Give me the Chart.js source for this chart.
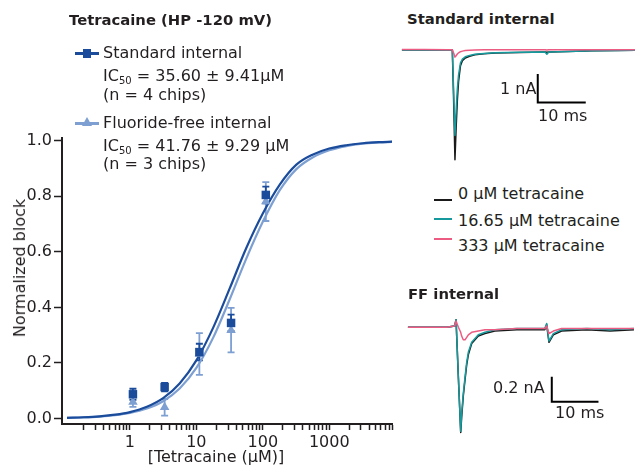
<!DOCTYPE html>
<html><head><meta charset="utf-8">
<script src="https://cdn.jsdelivr.net/npm/chart.js@4.4.1/dist/chart.umd.min.js"></script>
<style>
body{margin:0;width:635px;height:470px;background:#fff;position:relative;overflow:hidden;font-family:"DejaVu Sans",sans-serif;color:#231f20}
canvas{position:absolute}
.t{position:absolute;white-space:nowrap;line-height:1;font-size:16px}
.b{font-weight:bold;font-size:14.8px}
sub{font-size:10px;vertical-align:-3px;line-height:0}
.ln{position:absolute;height:2px}
</style></head><body>
<canvas id="main" width="400" height="470" style="left:0px;top:0px"></canvas>
<canvas id="trStd" width="235" height="130" style="left:400px;top:40px"></canvas>
<canvas id="trFF" width="235" height="140" style="left:400px;top:300px"></canvas>

<div class="t b" style="left:69px;top:13px">Tetracaine (HP -120 mV)</div>
<div class="ln" style="left:75px;top:52px;width:24px;height:2.5px;background:#1b4c9c"></div>
<div style="position:absolute;left:83px;top:49px;width:8px;height:9px;background:#1b4c9c"></div>
<div class="t" style="left:103px;top:45px">Standard internal</div>
<div class="t" style="left:103px;top:68px">IC<sub>50</sub> = 35.60 ± 9.41µM</div>
<div class="t" style="left:103px;top:87px">(n = 4 chips)</div>
<div class="ln" style="left:75px;top:122px;width:24px;height:2.5px;background:#7d9fd2"></div>
<div style="position:absolute;left:82px;top:117px;width:0;height:0;border-left:5px solid transparent;border-right:5px solid transparent;border-bottom:9px solid #7d9fd2"></div>
<div class="t" style="left:103px;top:115px">Fluoride-free internal</div>
<div class="t" style="left:103px;top:138px">IC<sub>50</sub> = 41.76 ± 9.29 µM</div>
<div class="t" style="left:103px;top:156px">(n = 3 chips)</div>

<div class="t" style="left:20px;top:268px;transform:translate(-50%,-50%) rotate(-90deg)">Normalized block</div>
<div class="t" style="left:216px;top:449px;transform:translateX(-50%)">[Tetracaine (µM)]</div>

<div class="t b" style="left:407px;top:12px">Standard internal</div>
<div class="t" style="left:500px;top:81px">1 nA</div>
<div class="t" style="left:538px;top:108px">10 ms</div>

<div class="ln" style="left:434px;top:199px;width:18px;background:#1a1a1a"></div>
<div class="t" style="left:458px;top:186px">0 µM tetracaine</div>
<div class="ln" style="left:434px;top:218px;width:18px;background:#16999c"></div>
<div class="t" style="left:458px;top:213px">16.65 µM tetracaine</div>
<div class="ln" style="left:434px;top:238px;width:18px;background:#ec5b82"></div>
<div class="t" style="left:458px;top:238px">333 µM tetracaine</div>

<div class="t b" style="left:408px;top:287px">FF internal</div>
<div class="t" style="left:493px;top:380px">0.2 nA</div>
<div class="t" style="left:555px;top:405px">10 ms</div>

<script>
// ---- dose-response data ----
const concentrations = [1.11, 3.33, 11.1, 33.3, 111];
const stdBlock = [0.087, 0.113, 0.239, 0.344, 0.805];
const stdErr   = [0.020, 0.015, 0.030, 0.030, 0.030];
const ffBlock  = [0.059, 0.040, 0.232, 0.318, 0.781];
const ffErr    = [0.017, 0.030, 0.075, 0.080, 0.070];

const fitConc = [0.113,0.2,0.35,0.6,1,1.8,3.2,5.6,10,18,32,56,100,180,320,560,1000,1800,3200,5600,8900];
const stdFit  = [0.0024,0.0043,0.0077,0.0136,0.023,0.042,0.074,0.126,0.209,0.328,0.47,0.612,0.738,0.842,0.914,0.95,0.972,0.984,0.991,0.995,0.997];
const ffFit   = [0.002,0.0037,0.0066,0.0115,0.0195,0.0355,0.063,0.108,0.182,0.292,0.431,0.574,0.708,0.822,0.898,0.94,0.966,0.981,0.99,0.994,0.996];

const xTickLabels = [1, 10, 100, 1000];
const yTickValues = [0, 0.2, 0.4, 0.6, 0.8, 1.0];

// ---- current traces (time in ms, current in nA) ----
const stdTime  = [0.4, 5, 10, 10.9, 11.15, 11.45, 11.7, 11.95, 12.2, 12.6, 13.0, 13.6, 14.5, 15.6, 17.5, 19.8, 25, 30.2, 30.6, 31.0, 35, 40, 45, 49];
const stdBlack = [0, 0.01, 0, 0, -1.6, -3.85, -2.7, -1.75, -1.1, -0.55, -0.38, -0.28, -0.22, -0.17, -0.13, -0.11, -0.09, -0.07, -0.08, -0.07, -0.05, -0.03, -0.02, -0.01];
const stdTeal  = [0, 0.01, 0, 0, -1.3, -3.0, -2.1, -1.35, -0.88, -0.45, -0.32, -0.24, -0.19, -0.15, -0.12, -0.10, -0.08, -0.07, -0.15, -0.07, -0.05, -0.03, -0.02, -0.01];
const stdPink  = [0.02, 0.02, 0.01, 0.01, -0.1, -0.25, -0.2, -0.14, -0.1, -0.06, -0.04, -0.02, -0.01, 0, 0.01, 0.01, 0.01, 0.01, 0, 0.01, 0.01, 0.01, 0.01, 0.01];

const ffTime  = [1.7, 6, 10, 11.7, 12.0, 12.5, 13.0, 13.2, 13.55, 13.92, 14.28, 14.63, 15.35, 16.77, 18.2, 20.3, 25, 31.0, 31.41, 31.9, 32.83, 34.6, 40, 45, 50.1];
const ffBlack = [0, 0, 0, 0.01, 0.06, -0.4, -0.84, -0.72, -0.55, -0.42, -0.30, -0.22, -0.13, -0.07, -0.05, -0.03, -0.02, -0.02, 0.02, -0.12, -0.06, -0.03, -0.02, -0.03, -0.02];
const ffTeal  = [0, 0, 0, 0.01, 0.06, -0.4, -0.83, -0.69, -0.53, -0.40, -0.28, -0.20, -0.12, -0.06, -0.04, -0.02, -0.01, -0.01, 0.03, -0.11, -0.05, -0.02, -0.01, -0.02, -0.01];
const ffPink  = [0, 0, 0, 0.01, 0.05, 0.0, -0.04, -0.07, -0.10, -0.10, -0.08, -0.06, -0.04, -0.03, -0.02, -0.02, -0.01, -0.01, 0.01, -0.05, -0.03, -0.01, -0.01, -0.01, -0.01];

// scale bars: [time start, current start, time length, current length]
const stdScaleBar = [28.7, -1.84, 10, 1];
const ffScaleBar  = [32.5, -0.595, 10, 0.2];

const DARK = '#1b4c9c', LIGHT = '#7d9fd2', INK = '#231f20';
const BLACK = '#1a1a1a', TEAL = '#16999c', PINK = '#ec5b82';
Chart.defaults.font.family = '"DejaVu Sans", sans-serif';
Chart.defaults.color = INK;

const pts = (xs, ys) => xs.map((x, i) => ({x, y: ys[i]}));

const errorBars = {
  id: 'errorBars',
  beforeDatasetsDraw(chart) {
    const {ctx, scales: {x, y}} = chart;
    [[ffBlock, ffErr, LIGHT], [stdBlock, stdErr, DARK]].forEach(([vals, errs, col]) => {
      ctx.save();
      ctx.strokeStyle = col; ctx.lineWidth = 1.8;
      vals.forEach((v, i) => {
        const px = x.getPixelForValue(concentrations[i]);
        const t = y.getPixelForValue(v + errs[i]);
        const b = y.getPixelForValue(v - errs[i]);
        ctx.beginPath();
        ctx.moveTo(px, t); ctx.lineTo(px, b);
        ctx.moveTo(px - 3.5, t); ctx.lineTo(px + 3.5, t);
        ctx.moveTo(px - 3.5, b); ctx.lineTo(px + 3.5, b);
        ctx.stroke();
      });
      ctx.restore();
    });
  }
};

new Chart(document.getElementById('main'), {
  type: 'scatter',
  data: {
    datasets: [
      {data: pts(concentrations, stdBlock), pointStyle: 'rect', pointRadius: 6, backgroundColor: DARK, borderColor: DARK, borderWidth: 0},
      {data: pts(concentrations, ffBlock), pointStyle: 'triangle', pointRadius: 5.5, backgroundColor: LIGHT, borderColor: LIGHT, borderWidth: 0},
      {type: 'line', data: pts(fitConc, stdFit), borderColor: DARK, borderWidth: 2.2, pointRadius: 0, cubicInterpolationMode: 'monotone', fill: false},
      {type: 'line', data: pts(fitConc, ffFit), borderColor: LIGHT, borderWidth: 2.2, pointRadius: 0, cubicInterpolationMode: 'monotone', fill: false}
    ]
  },
  options: {
    responsive: false, animation: false, devicePixelRatio: 1,
    layout: {padding: {top: 138, right: 8, left: 0, bottom: 0}},
    plugins: {legend: {display: false}, tooltip: {enabled: false}},
    scales: {
      x: {
        type: 'logarithmic', min: 0.095, max: 8800,
        border: {color: INK, width: 2},
        grid: {drawOnChartArea: false, drawTicks: true, tickLength: 6, tickColor: INK, tickWidth: 1.5},
        afterBuildTicks: s => {
          const t = [];
          for (let d = 0.1; d < 9000; d *= 10) {
            for (let m = 1; m <= 9; m++) {
              const v = Math.round(d * m * 1000) / 1000;
              if (v > 0.15 && v < 9500) t.push({value: v, major: xTickLabels.includes(v)});
            }
          }
          s.ticks = t;
        },
        afterFit: s => { s.height = 46; },
        ticks: {autoSkip: false, maxRotation: 0, minRotation: 0, padding: 3, color: INK, font: {size: 16},
          callback: v => xTickLabels.includes(v) ? String(v) : ''}
      },
      y: {
        min: -0.02, max: 1.01,
        border: {color: INK, width: 2},
        grid: {drawOnChartArea: false, drawTicks: true, tickLength: 8, tickColor: INK, tickWidth: 1.5},
        afterBuildTicks: s => { s.ticks = yTickValues.map(v => ({value: v})); },
        afterFit: s => { s.width = 62; },
        ticks: {padding: 2, color: INK, font: {size: 16}, callback: v => Number(v).toFixed(1)}
      }
    }
  },
  plugins: [errorBars]
});

function traceChart(id, time, black, teal, pink, bar, xmax, ymin, ymax) {
  const barPts = [{x: bar[0], y: bar[1] + bar[3]}, {x: bar[0], y: bar[1]}, {x: bar[0] + bar[2], y: bar[1]}];
  const line = (d, c) => ({data: pts(time, d), borderColor: c, borderWidth: 1.5, pointRadius: 0, tension: 0, borderJoinStyle: 'round', fill: false});
  new Chart(document.getElementById(id), {
    type: 'line',
    data: {datasets: [
      {data: barPts, borderColor: '#000', borderWidth: 2, pointRadius: 0, tension: 0, fill: false},
      line(pink, PINK), line(teal, TEAL), line(black, BLACK)
    ]},
    options: {
      responsive: false, animation: false, devicePixelRatio: 1,
      layout: {padding: 0},
      plugins: {legend: {display: false}, tooltip: {enabled: false}},
      scales: {
        x: {type: 'linear', min: 0, max: xmax, display: false},
        y: {min: ymin, max: ymax, display: false}
      }
    }
  });
}
traceChart('trStd', stdTime, stdBlack, stdTeal, stdPink, stdScaleBar, 48.96, -4.21, 0.35);
traceChart('trFF', ffTime, ffBlack, ffTeal, ffPink, ffScaleBar, 50.32, -0.9, 0.218);
</script>
</body></html>
